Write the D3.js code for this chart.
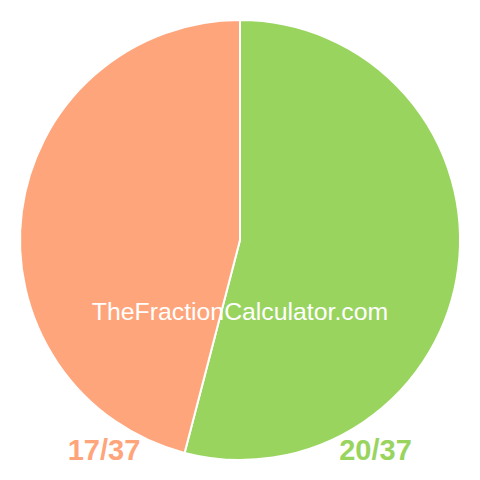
<!DOCTYPE html>
<html><head><meta charset="utf-8">
<script src="https://cdn.jsdelivr.net/npm/d3@7"></script>
<style>html,body{margin:0;padding:0;background:#fff;}svg{display:block;}</style>
</head><body>
<script>
const labels = ["20/37", "17/37"];
const values = [20, 17];
const colors = ["#99d45f", "#ffa57b"];
const watermark = "TheFractionCalculator.com";

const W = 480, H = 480, cx = 240, cy = 240, R = 220;
const svg = d3.select("body").append("svg").attr("width", W).attr("height", H);
const pie = d3.pie().sort(null).value(d => d)(values);
const arc = d3.arc().innerRadius(0).outerRadius(R);
const g = svg.append("g").attr("transform", `translate(${cx},${cy})`);
g.selectAll("path").data(pie).join("path")
  .attr("d", arc)
  .attr("fill", (d, i) => colors[i])
  .attr("stroke", "#fff")
  .attr("stroke-width", 2)
  .attr("stroke-linejoin", "round");

svg.append("text").attr("x", 240).attr("y", 319.5)
  .attr("text-anchor", "middle")
  .attr("font-family", "Liberation Sans, Arial, sans-serif")
  .attr("font-size", 24.8).attr("fill", "#fff").text(watermark);

const lx = [375.5, 104];
svg.selectAll("text.lab").data(labels).join("text").attr("class", "lab")
  .attr("x", (d, i) => lx[i]).attr("y", 459.5)
  .attr("text-anchor", "middle")
  .attr("font-family", "Liberation Sans, Arial, sans-serif")
  .attr("font-weight", "bold").attr("font-size", 29)
  .attr("fill", (d, i) => colors[i]).text(d => d);
</script>
</body></html>
